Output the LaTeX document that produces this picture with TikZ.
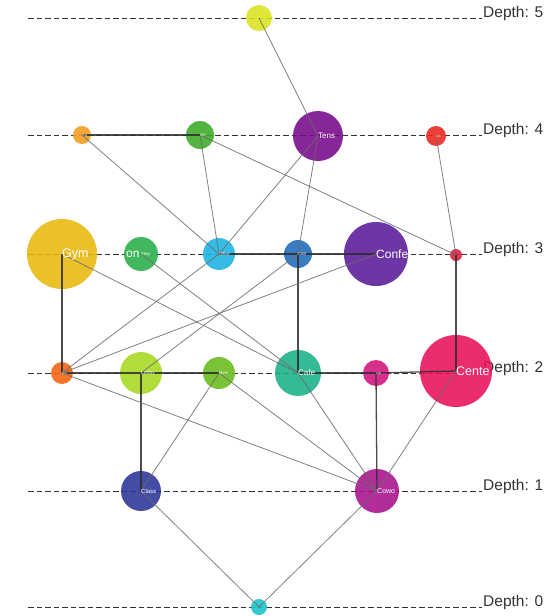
\documentclass[tikz,border=0pt]{standalone}
\usepackage{fontspec}
\setmainfont{Liberation Sans}
\definecolor{cYel}{HTML}{D8E21E}
\definecolor{cOrA}{HTML}{F39A1C}
\definecolor{cGrA}{HTML}{3CAA26}
\definecolor{cTen}{HTML}{76088A}
\definecolor{cRdA}{HTML}{E8261C}
\definecolor{cGym}{HTML}{E8B80E}
\definecolor{cShp}{HTML}{28AE48}
\definecolor{cOff}{HTML}{1AB2E0}
\definecolor{cChl}{HTML}{1E6AB8}
\definecolor{cCnf}{HTML}{5A1A98}
\definecolor{cRdB}{HTML}{D81C3C}
\definecolor{cOrB}{HTML}{F2620E}
\definecolor{cLby}{HTML}{A6D820}
\definecolor{cMtg}{HTML}{68BA1A}
\definecolor{cCaf}{HTML}{18B088}
\definecolor{cMag}{HTML}{D0127C}
\definecolor{cCen}{HTML}{E8105A}
\definecolor{cCls}{HTML}{2A3496}
\definecolor{cCow}{HTML}{A8108C}
\definecolor{cCyn}{HTML}{18C0C8}
\definecolor{lineDark}{HTML}{2E2E2E}
\definecolor{lineGray}{HTML}{6A6A6A}
\definecolor{txtDepth}{HTML}{333333}
\begin{document}
\begin{tikzpicture}[x=1pt,y=-1pt,
  depthline/.style={draw=txtDepth, line width=1pt, dash pattern=on 5.5pt off 3pt},
  dlabel/.style={text=txtDepth, font=\fontsize{15.5}{15.5}\selectfont, inner sep=0, anchor=base west},
  room/.style={circle, inner sep=0, minimum size=2*#1pt, fill opacity=0.88, draw=none},
  edgeDark/.style={draw=lineDark, line width=1.3pt},
  edgeGray/.style={draw=lineGray, line width=0.8pt},
  rlabel/.style={text=white, inner sep=0, anchor=west, font=\fontsize{#1}{#1}\selectfont},
]
\useasboundingbox (0,0) rectangle (556,616);

% depth guide lines and their labels
\foreach \d/\yy in {5/18,4/135,3/254,2/373,1/491,0/607}{
  \draw[depthline] (28,\yy) -- (482,\yy);
  \node[dlabel] (depth\d) at (483,\yy-1) {Depth: \d};
}

% room positions
\path
  (259,18)  coordinate (p-yel)
  (82,135)  coordinate (p-ora)
  (200,135) coordinate (p-gra)
  (318,136) coordinate (p-ten)
  (436,136) coordinate (p-rda)
  (62,254)  coordinate (p-gym)
  (141,254) coordinate (p-shp)
  (219,254) coordinate (p-off)
  (298,254) coordinate (p-chl)
  (376,254) coordinate (p-cnf)
  (456,255) coordinate (p-rdb)
  (62,373)  coordinate (p-orb)
  (141,373) coordinate (p-lby)
  (219,373) coordinate (p-mtg)
  (298,373) coordinate (p-caf)
  (376,373) coordinate (p-mag)
  (456,371) coordinate (p-cen)
  (141,491) coordinate (p-cls)
  (377,491) coordinate (p-cow)
  (259,607) coordinate (p-cyn);

% rooms
\node[room=13, fill=cYel] (yel) at (p-yel) {};
\node[room=9,  fill=cOrA] (ora) at (p-ora) {};
\node[room=14, fill=cGrA] (gra) at (p-gra) {};
\node[room=25, fill=cTen] (ten) at (p-ten) {};
\node[room=10, fill=cRdA] (rda) at (p-rda) {};
\node[room=35, fill=cGym] (gym) at (p-gym) {};
\node[room=17, fill=cShp] (shp) at (p-shp) {};
\node[room=16, fill=cOff] (off) at (p-off) {};
\node[room=14, fill=cChl] (chl) at (p-chl) {};
\node[room=32, fill=cCnf] (cnf) at (p-cnf) {};
\node[room=6,  fill=cRdB] (rdb) at (p-rdb) {};
\node[room=11, fill=cOrB] (orb) at (p-orb) {};
\node[room=21, fill=cLby] (lby) at (p-lby) {};
\node[room=16, fill=cMtg] (mtg) at (p-mtg) {};
\node[room=23, fill=cCaf] (caf) at (p-caf) {};
\node[room=13, fill=cMag] (mag) at (p-mag) {};
\node[room=36, fill=cCen] (cen) at (p-cen) {};
\node[room=20, fill=cCls] (cls) at (p-cls) {};
\node[room=22, fill=cCow] (cow) at (p-cow) {};
\node[room=8,  fill=cCyn] (cyn) at (p-cyn) {};

% connectors between rooms
\foreach \a/\b in {ora/gra, gym/orb, off/chl, chl/cnf, chl/caf,
                   orb/lby, lby/mtg, caf/mag, mag/cen,
                   lby/cls, mag/cow, rdb/cen}{
  \draw[edgeDark, opacity=0.85] (\a.center) -- (\b.center);
}
\foreach \a/\b in {yel/ten, ora/off, gra/off, gra/rdb, ten/off, ten/chl,
                   rda/rdb, gym/caf, shp/caf, off/orb, chl/lby, cnf/orb,
                   orb/cow, mtg/cow, caf/cow, cen/cow, mtg/cls,
                   cls/cyn, cow/cyn}{
  \draw[edgeGray, opacity=0.85] (\a.center) -- (\b.center);
}

% room labels
\node[rlabel=12.5] (l-gym) at (gym.center) {Gym};
\node[rlabel=12]   (l-on)  at (126,254) {on};
\node[rlabel=12]   (l-cnf) at (cnf.center) {Confe};
\node[rlabel=12.5] (l-cen) at (cen.center) {Cente};
\node[rlabel=8]    (l-ten) at (ten.center) {Tens};
\node[rlabel=8]    (l-caf) at (caf.center) {Cafe};
\node[rlabel=7]    (l-cow) at (cow.center) {Cowo};
\node[rlabel=6]    (l-cls) at (cls.center) {Class};
\node[rlabel=5]    (l-lby) at (lby.center) {Lobby};
\node[rlabel=4]    (l-shp) at (shp.center) {Shop};
\node[rlabel=4]    (l-off) at (off.center) {Office};
\node[rlabel=4]    (l-mtg) at (mtg.center) {Meet};
\node[rlabel=4]    (l-chl) at (chl.center) {Chill};
\node[rlabel=3.5]  (l-gra) at (gra.center) {MP};
\node[rlabel=3]    (l-mag) at (mag.center) {Lab};
\node[rlabel=3]    (l-rda) at (rda.center) {WC};
\node[rlabel=3]    (l-ora) at (ora.center) {Hall};
\node[rlabel=3]    (l-orb) at (orb.center) {Exit};
\end{tikzpicture}
\end{document}
